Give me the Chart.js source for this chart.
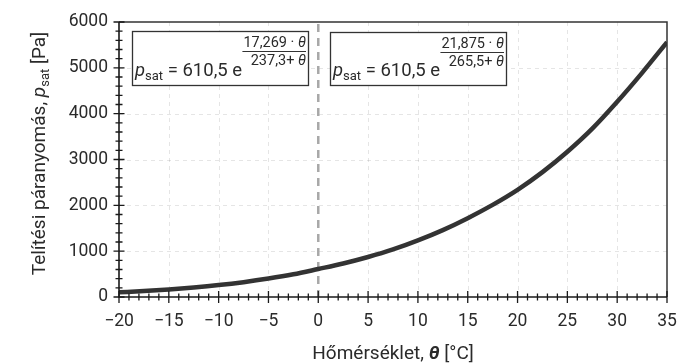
<!DOCTYPE html>
<html><head><meta charset="utf-8">
<script src="https://cdn.jsdelivr.net/npm/chart.js@4.4.1/dist/chart.umd.min.js"></script>
<style>html,body{margin:0;padding:0;background:#fff}#wrap{width:697px;height:363px}</style>
</head><body><div id="wrap"><canvas id="c" width="697" height="363"></canvas></div>
<script>
// ---- data ----
const temps = [-20, -17.5, -15, -12.5, -10, -7.5, -5, -2.5, 0, 2.5, 5, 7.5, 10, 12.5, 15, 17.5, 20, 22.5, 25, 27.5, 30, 32.5, 35];
const pressures = [103, 130, 165, 208, 260, 324, 402, 495, 611, 731, 872, 1037, 1235, 1460, 1720, 2010, 2338, 2725, 3169, 3673, 4260, 4891, 5560];
const xTicks = [-20, -15, -10, -5, 0, 5, 10, 15, 20, 25, 30, 35];
const yTicks = [0, 1000, 2000, 3000, 4000, 5000, 6000];
const xTitle = ['Hőmérséklet, ', 'θ', ' [°C]'];
const yTitle = ['Telítési páranyomás, ', 'p', 'sat', ' [Pa]'];
const formulaIce = {num: ['17,269 · ', 'θ'], den: ['237,3+ ', 'θ']};
const formulaWater = {num: ['21,875 · ', 'θ'], den: ['265,5+ ', 'θ']};

const FONT = 'Roboto, "DejaVu Sans", sans-serif';
const TXT = '#2a2a2a';

function runs(ctx, list, x, y) {
  let cx = x;
  for (const [t, f, dy] of list) {
    ctx.font = f;
    ctx.fillText(t, cx, y + (dy || 0));
    cx += ctx.measureText(t).width;
  }
  return cx;
}
function runsWidth(ctx, list) {
  let w = 0;
  for (const [t, f] of list) { ctx.font = f; w += ctx.measureText(t).width; }
  return w;
}

const deco = {
  id: 'deco',
  beforeDatasetsDraw(chart) {
    const {ctx, chartArea: a, scales: {x, y}} = chart;
    ctx.save();
    ctx.strokeStyle = 'rgba(0,0,0,0.10)';
    ctx.lineWidth = 1;
    ctx.setLineDash([4, 4]);
    xTicks.forEach(v => {
      if (v === xTicks[0] || v === xTicks[xTicks.length - 1] || v === 0) return;
      const px = Math.round(x.getPixelForValue(v)) + 0.5;
      ctx.beginPath(); ctx.moveTo(px, a.top); ctx.lineTo(px, a.bottom); ctx.stroke();
    });
    yTicks.forEach(v => {
      if (v === yTicks[0] || v === yTicks[yTicks.length - 1]) return;
      const py = Math.round(y.getPixelForValue(v)) + 0.5;
      ctx.beginPath(); ctx.moveTo(a.left, py); ctx.lineTo(a.right, py); ctx.stroke();
    });
    ctx.strokeStyle = '#a8a8a8';
    ctx.lineWidth = 2.5;
    ctx.setLineDash([8, 6]);
    const p0 = x.getPixelForValue(0);
    ctx.beginPath(); ctx.moveTo(p0, a.top + 2); ctx.lineTo(p0, a.bottom); ctx.stroke();
    ctx.restore();
  },
  afterDatasetsDraw(chart) {
    const {ctx, chartArea: a, scales: {x, y}} = chart;
    ctx.save();
    ctx.setLineDash([]);
    ctx.strokeStyle = '#333';
    ctx.lineWidth = 1.5;
    ctx.beginPath();
    ctx.moveTo(a.left, a.top); ctx.lineTo(a.right, a.top); ctx.lineTo(a.right, a.bottom);
    ctx.stroke();
    ctx.strokeStyle = '#1a1a1a';
    ctx.lineWidth = 1.6;
    ctx.beginPath();
    ctx.moveTo(a.left, a.top); ctx.lineTo(a.left, a.bottom); ctx.lineTo(a.right, a.bottom);
    ctx.stroke();
    ctx.lineWidth = 1.3;
    ctx.beginPath();
    for (let v = xTicks[0]; v <= xTicks[xTicks.length - 1]; v += 1) {
      const px = x.getPixelForValue(v);
      const h = v % 5 === 0 ? 6 : 3.5;
      ctx.moveTo(px, a.bottom - h); ctx.lineTo(px, a.bottom + h);
    }
    for (let v = yTicks[0]; v <= yTicks[yTicks.length - 1]; v += 200) {
      const py = y.getPixelForValue(v);
      const w = v % 1000 === 0 ? 5.5 : 3.5;
      ctx.moveTo(a.left - w, py); ctx.lineTo(a.left + w, py);
    }
    ctx.stroke();

    const box = (x1, y1, x2, y2, f) => {
      ctx.fillStyle = '#fff';
      ctx.fillRect(x1, y1, x2 - x1, y2 - y1);
      ctx.strokeStyle = '#333';
      ctx.lineWidth = 1.3;
      ctx.strokeRect(x1 + 0.5, y1 + 0.5, x2 - x1, y2 - y1);
      ctx.fillStyle = TXT;
      ctx.textBaseline = 'alphabetic';
      ctx.textAlign = 'left';
      const big = '18.5px ' + FONT, bigI = 'italic 18.5px ' + FONT, sub = '13px ' + FONT;
      runs(ctx, [['p', bigI], ['sat', sub, 4], [' = 610,5 e', big]], x1 + 3, y2 - 9);
      const small = '14.5px ' + FONT, smallI = 'italic 14.5px ' + FONT;
      const num = [[f.num[0], small], [f.num[1], smallI]];
      const den = [[f.den[0], small], [f.den[1], smallI]];
      const wn = runsWidth(ctx, num), wd = runsWidth(ctx, den);
      const right = x2 - 2;
      runs(ctx, num, right - wn, y1 + 16);
      ctx.strokeStyle = '#333';
      ctx.lineWidth = 1.2;
      ctx.beginPath();
      ctx.moveTo(right - Math.max(wn, wd) - 1, y1 + 20.5); ctx.lineTo(right, y1 + 20.5);
      ctx.stroke();
      runs(ctx, den, right - wd, y1 + 34);
    };
    box(132, 31, 308, 85, formulaIce);
    box(330, 32, 506, 85, formulaWater);

    ctx.fillStyle = TXT;
    ctx.textBaseline = 'alphabetic';
    const tf = '19px ' + FONT, tfI = 'italic 19px ' + FONT, tfBI = 'italic bold 19px ' + FONT, tsub = '13px ' + FONT;
    const xl = [[xTitle[0], tf], [xTitle[1], tfBI], [xTitle[2], tf]];
    const wx = runsWidth(ctx, xl);
    runs(ctx, xl, (a.left + a.right) / 2 - wx / 2, 359);
    const yl = [[yTitle[0], tf], [yTitle[1], tfI], [yTitle[2], tsub, 4], [yTitle[3], tf]];
    const wy = runsWidth(ctx, yl);
    ctx.translate(45, (a.top + a.bottom) / 2 - 6);
    ctx.rotate(-Math.PI / 2);
    runs(ctx, yl, -wy / 2, 0);
    ctx.restore();
  }
};

new Chart(document.getElementById('c'), {
  type: 'line',
  data: {
    datasets: [{
      data: temps.map((t, i) => ({x: t, y: pressures[i]})),
      borderColor: '#333',
      borderWidth: 4.5,
      pointRadius: 0,
      cubicInterpolationMode: 'monotone',
      fill: false
    }]
  },
  options: {
    responsive: false,
    animation: false,
    events: [],
    layout: {padding: {top: 22, right: 30, left: 0, bottom: 0}},
    plugins: {legend: {display: false}, tooltip: {enabled: false}},
    scales: {
      x: {
        type: 'linear', min: xTicks[0], max: xTicks[xTicks.length - 1],
        afterBuildTicks: s => { s.ticks = xTicks.map(v => ({value: v})); },
        afterFit: s => { s.height = 66; },
        grid: {display: false, drawTicks: false},
        border: {display: false},
        ticks: {
          padding: 14, color: TXT, font: {family: FONT, size: 17.5},
          maxRotation: 0, autoSkip: false,
          callback: v => (v < 0 ? '\u2212' + Math.abs(v) : String(v))
        }
      },
      y: {
        type: 'linear', min: yTicks[0], max: yTicks[yTicks.length - 1],
        afterBuildTicks: s => { s.ticks = yTicks.map(v => ({value: v})); },
        afterFit: s => { s.width = 119; },
        grid: {display: false, drawTicks: false},
        border: {display: false},
        ticks: {padding: 11, color: TXT, font: {family: FONT, size: 17.5},
          callback: v => String(v)}
      }
    }
  },
  plugins: [deco]
});
</script>
</body></html>
